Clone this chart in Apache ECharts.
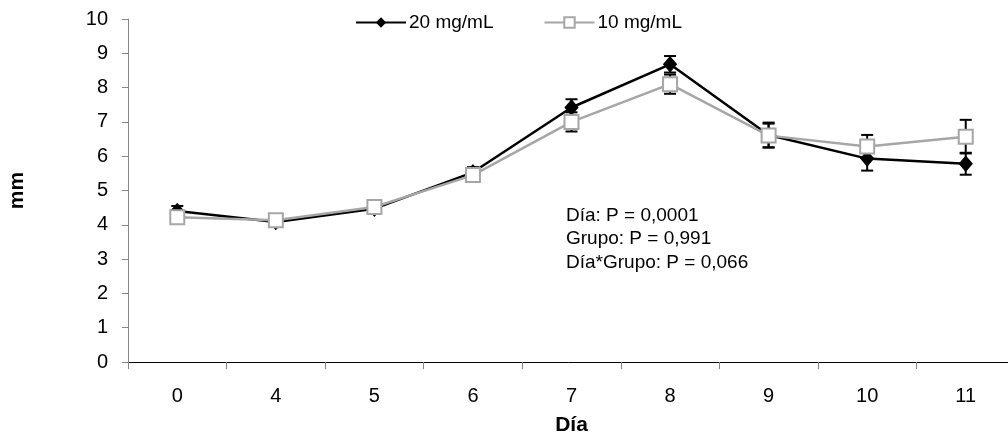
<!DOCTYPE html>
<html>
<head>
<meta charset="utf-8">
<script src="https://cdn.jsdelivr.net/npm/echarts@6/dist/echarts.min.js"></script>
<style>html,body{margin:0;padding:0;background:#fff}#c{width:1008px;height:438px}</style>
</head>
<body>
<div id="c"></div>
<script>
const categories = ['0','4','5','6','7','8','9','10','11'];
const dose20 = [4.40, 4.08, 4.47, 5.53, 7.42, 8.68, 6.62, 5.93, 5.78];
const dose20Err = [0.15, 0.12, 0.10, 0.15, 0.24, 0.24, 0.36, 0.35, 0.32];
const dose10 = [4.22, 4.13, 4.52, 5.45, 7.00, 8.10, 6.60, 6.28, 6.57];
const dose10Err = [0.10, 0.10, 0.08, 0.10, 0.28, 0.28, 0.35, 0.34, 0.49];
const yTicks = [0,1,2,3,4,5,6,7,8,9,10];
const annotation = ['Día: P = 0,0001', 'Grupo: P = 0,991', 'Día*Grupo: P = 0,066'];

const FONT = 'Liberation Sans, Arial, sans-serif';
const chart = echarts.init(document.getElementById('c'));

function errData(vals, errs) {
  return vals.map((v, i) => [i, v - errs[i], v + errs[i]]);
}
function errRender(params, api) {
  const x = api.value(0);
  const lo = api.coord([x, api.value(1)]);
  const hi = api.coord([x, api.value(2)]);
  const hw = 6;
  const st = { stroke: '#000', lineWidth: 2 };
  return {
    type: 'group',
    children: [
      { type: 'line', shape: { x1: lo[0], y1: lo[1], x2: hi[0], y2: hi[1] }, style: st },
      { type: 'line', shape: { x1: lo[0] - hw, y1: lo[1], x2: lo[0] + hw, y2: lo[1] }, style: st },
      { type: 'line', shape: { x1: hi[0] - hw, y1: hi[1], x2: hi[0] + hw, y2: hi[1] }, style: st }
    ]
  };
}

chart.setOption({
  animation: false,
  backgroundColor: '#fff',
  grid: { left: 128, top: 19, width: 887, bottom: 76, containLabel: false, outerBoundsMode: 'none' },
  legend: {
    top: 8, left: 350,
    itemWidth: 50, itemHeight: 13, itemGap: 50,
    textStyle: { fontFamily: FONT, fontSize: 19, color: '#000', padding: [0,0,0,-2] },
    data: ['20 mg/mL', '10 mg/mL']
  },
  xAxis: {
    type: 'category',
    data: categories,
    name: 'Día',
    nameLocation: 'middle',
    nameGap: 53,
    nameTextStyle: { fontFamily: FONT, fontSize: 21, fontWeight: 'bold', color: '#000' },
    axisLine: { lineStyle: { color: '#000', width: 1 } },
    axisTick: { show: true, length: 7, lineStyle: { color: '#868686' }, alignWithLabel: false },
    axisLabel: { fontFamily: FONT, fontSize: 20, color: '#000', margin: 24 },
    splitLine: { show: false }
  },
  yAxis: {
    type: 'value',
    min: yTicks[0], max: yTicks[yTicks.length - 1], interval: 1,
    name: 'mm',
    nameLocation: 'middle',
    nameGap: 100,
    nameRotate: 90,
    nameTextStyle: { fontFamily: FONT, fontSize: 21, fontWeight: 'bold', color: '#000' },
    axisLine: { show: true, lineStyle: { color: '#868686', width: 1 } },
    axisTick: { show: true, length: 6, lineStyle: { color: '#868686' } },
    axisLabel: { fontFamily: FONT, fontSize: 20, color: '#000', margin: 20 },
    splitLine: { show: false }
  },
  graphic: annotation.map((t, i) => ({
    type: 'text', left: 566, top: 206 + i * 23.5,
    style: { text: t, font: '19px ' + FONT, fill: '#000' }
  })),
  series: [
    {
      type: 'custom', name: 'err20', renderItem: errRender,
      data: errData(dose20, dose20Err), z: 1, silent: true
    },
    {
      type: 'custom', name: 'err10', renderItem: errRender,
      data: errData(dose10, dose10Err), z: 1, silent: true
    },
    {
      name: '20 mg/mL', type: 'line', data: dose20, z: 3,
      symbol: 'diamond', symbolSize: [13, 15],
      itemStyle: { color: '#000', borderColor: '#000' },
      lineStyle: { color: '#000', width: 2.5 }
    },
    {
      name: '10 mg/mL', type: 'line', data: dose10, z: 4,
      symbol: 'rect', symbolSize: 14,
      itemStyle: { color: '#fff', borderColor: '#a6a6a6', borderWidth: 2 },
      lineStyle: { color: '#a6a6a6', width: 2.5 }
    }
  ]
});
</script>
</body>
</html>
